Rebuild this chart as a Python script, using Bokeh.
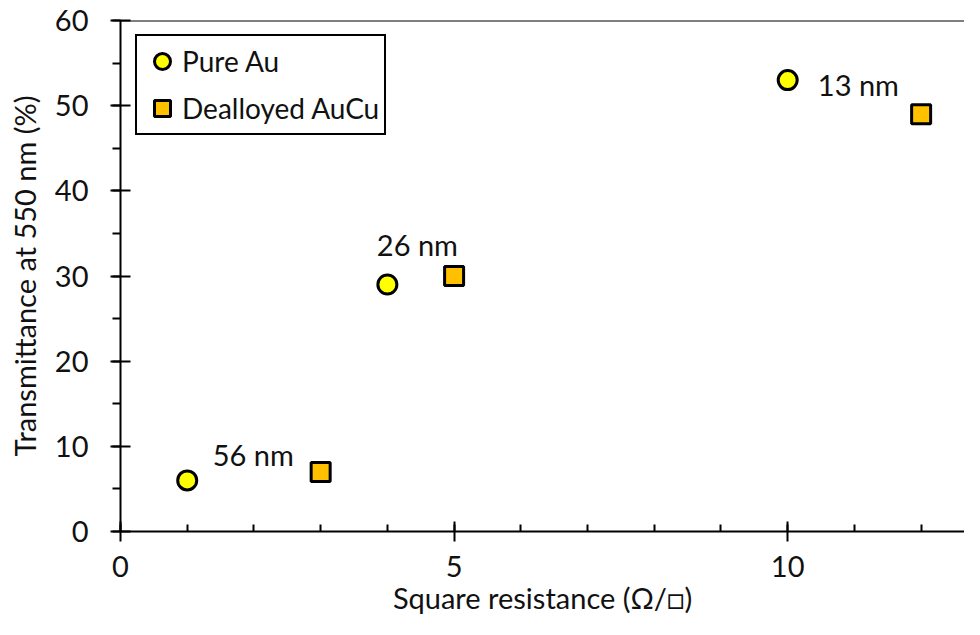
from bokeh.plotting import figure
from bokeh.models import Range1d, SingleIntervalTicker, Span, Legend, LegendItem, ColumnDataSource
from bokeh.core.properties import value
from bokeh.embed import file_html
from bokeh.resources import INLINE

# Data
au_x = [1, 4, 10]
au_y = [6, 29, 53]
aucu_x = [3, 5, 12]
aucu_y = [7, 30, 49]
note_x = [1.99, 4.45, 11.06]
note_y = [9.0, 33.7, 52.5]
note_text = ["56 nm", "26 nm", "13 nm"]

FONT = "Lato"
TXT = "#111111"

p = figure(width=964, height=619, output_backend="svg", toolbar_location=None,
           x_range=Range1d(0, 12.65), y_range=Range1d(0, 60),
           min_border_left=120, min_border_right=0, min_border_top=20, min_border_bottom=88)
p.outline_line_color = None
p.xgrid.visible = False
p.ygrid.visible = False
p.background_fill_color = "white"
p.border_fill_color = "white"

p.add_layout(Span(location=60, dimension="width", line_color="black", line_width=2))

r_au = p.scatter(au_x, au_y, marker="circle", size=19, fill_color="#FFFF00",
                 line_color="black", line_width=3)
r_cu = p.scatter(aucu_x, aucu_y, marker="square", size=19, fill_color="#FFC000",
                 line_color="black", line_width=3)

src = ColumnDataSource(dict(x=note_x, y=note_y, t=note_text))
p.text(x="x", y="y", text="t", source=src, text_align="center", text_baseline="middle",
       text_font=value(FONT), text_font_size="29px", text_color=TXT)

xa = p.xaxis[0]
xa.ticker = SingleIntervalTicker(interval=5, num_minor_ticks=5)
ya = p.yaxis[0]
ya.ticker = SingleIntervalTicker(interval=10, num_minor_ticks=2)
for ax in (xa, ya):
    ax.axis_line_width = 2
    ax.axis_line_color = "black"
    ax.major_tick_line_width = 2
    ax.minor_tick_line_width = 2
    ax.major_tick_in = 10
    ax.major_tick_out = 10
    ax.major_label_text_font = FONT
    ax.major_label_text_font_size = "29px"
    ax.major_label_text_color = TXT
    ax.axis_label_text_font = FONT
    ax.axis_label_text_font_size = "29px"
    ax.axis_label_text_font_style = "normal"
    ax.axis_label_text_color = TXT
xa.minor_tick_in = 7
xa.minor_tick_out = 0
ya.minor_tick_in = 0
ya.minor_tick_out = 8
xa.major_label_standoff = 14
ya.major_label_standoff = 22
xa.axis_label = "Square resistance (Ω/□)"
ya.axis_label = "Transmittance at 550 nm (%)"
xa.axis_label_standoff = 0
ya.axis_label_standoff = 10

legend = Legend(items=[LegendItem(label="Pure Au", renderers=[r_au]),
                       LegendItem(label="Dealloyed AuCu", renderers=[r_cu])],
                location=(15, 396), margin=0, padding=5, spacing=7,
                glyph_width=40, glyph_height=40, label_standoff=0,
                label_text_font=FONT, label_text_font_size="28px",
                label_text_color=TXT,
                border_line_color="black", border_line_width=2, border_line_alpha=1.0,
                background_fill_alpha=1.0)
p.add_layout(legend)

open("out.html", "w").write(file_html(p, INLINE))
